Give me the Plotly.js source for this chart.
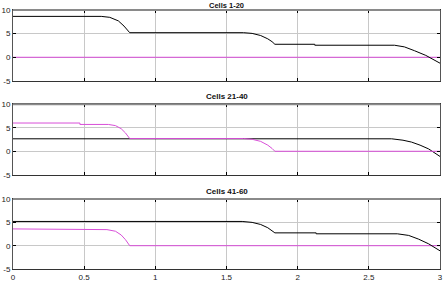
<!DOCTYPE html>
<html><head><meta charset="utf-8">
<script src="https://cdn.plot.ly/plotly-3.0.1.min.js"></script>
<style>body{margin:0;padding:0;background:#fff}</style>
</head><body><div id="chart" style="width:444px;height:289px"></div>
<script>
const titles = ["Cells 1-20", "Cells 21-40", "Cells 41-60"];
const xTicks = [0, 0.5, 1, 1.5, 2, 2.5, 3];
const yTicks = [-5, 0, 5, 10];

const p1BlackX = [0, 0.62, 0.68, 0.74, 0.78, 0.80, 0.82, 1.62, 1.68, 1.74, 1.79, 1.82, 1.84, 2.12, 2.12, 2.68, 2.75, 2.82, 2.9, 3.0];
const p1BlackY = [8.65, 8.65, 8.45, 7.7, 6.6, 5.9, 5.2, 5.2, 5.05, 4.6, 3.9, 3.3, 2.75, 2.75, 2.55, 2.55, 2.2, 1.4, 0.4, -1.25];
const p1MagX = [0, 3];
const p1MagY = [0, 0];

const p2BlackX = [0, 2.66, 2.74, 2.8, 2.86, 2.92, 3.0];
const p2BlackY = [2.65, 2.65, 2.35, 1.95, 1.3, 0.5, -1.1];
const p2MagX = [0, 0.47, 0.47, 0.67, 0.72, 0.76, 0.79, 0.81, 0.82, 1.62, 1.68, 1.74, 1.79, 1.82, 1.84, 3.0];
const p2MagY = [6.0, 6.0, 5.7, 5.7, 5.45, 4.8, 3.9, 3.2, 2.7, 2.7, 2.55, 2.1, 1.3, 0.6, 0, 0];

const p3BlackX = [0, 1.61, 1.68, 1.74, 1.79, 1.82, 1.84, 2.13, 2.13, 2.7, 2.78, 2.85, 2.92, 3.0];
const p3BlackY = [5.2, 5.2, 5.0, 4.55, 3.85, 3.3, 2.75, 2.75, 2.55, 2.55, 2.2, 1.4, 0.4, -1.1];
const p3MagX = [0, 0.47, 0.47, 0.66, 0.72, 0.76, 0.79, 0.81, 0.82, 3.0];
const p3MagY = [3.6, 3.6, 3.45, 3.45, 3.1, 2.3, 1.3, 0.5, 0, 0];

const BLACK = '#000000', MAG = '#d84fd8';
function tr(x, y, c, ax) {
  return {x: x, y: y, type: 'scatter', mode: 'lines', line: {color: c, width: 1},
    xaxis: 'x' + (ax === 1 ? '' : ax), yaxis: 'y' + (ax === 1 ? '' : ax), hoverinfo: 'none'};
}
const data = [
  tr(p1MagX, p1MagY, MAG, 1), tr(p1BlackX, p1BlackY, BLACK, 1),
  tr(p2BlackX, p2BlackY, BLACK, 2), tr(p2MagX, p2MagY, MAG, 2),
  tr(p3MagX, p3MagY, MAG, 3), tr(p3BlackX, p3BlackY, BLACK, 3)
];
const tickFont = {family: 'Liberation Sans, Arial, sans-serif', size: 8, color: '#222'};
function xa(showLabels, anchor) {
  return {range: [0, 3], tickvals: xTicks, ticktext: xTicks.map(String), showticklabels: showLabels,
    ticks: 'inside', ticklen: 3, tickcolor: '#000', showgrid: true, gridcolor: '#c8c8c8', gridwidth: 1,
    showline: true, linecolor: '#333', linewidth: 1, mirror: 'allticks', zeroline: false,
    tickfont: tickFont, anchor: anchor, domain: [0, 1]};
}
function ya(domain, anchor) {
  return {range: [-5, 10], tickvals: yTicks, ticktext: yTicks.map(String), ticks: 'inside', ticklen: 3,
    tickcolor: '#000', showgrid: true, gridcolor: '#c8c8c8', gridwidth: 1, showline: true,
    linecolor: '#555', linewidth: 1, mirror: 'allticks', zeroline: false, tickfont: tickFont,
    anchor: anchor, domain: domain};
}
const doms = [[0.7262, 1], [0.3637, 0.6363], [0, 0.27]];
const layout = {
  width: 444, height: 289, showlegend: false,
  margin: {l: 13, r: 4, t: 10, b: 20},
  paper_bgcolor: '#fff', plot_bgcolor: '#fff',
  xaxis: xa(false, 'y'), yaxis: ya(doms[0], 'x'),
  xaxis2: xa(false, 'y2'), yaxis2: ya(doms[1], 'x2'),
  xaxis3: xa(true, 'y3'), yaxis3: ya(doms[2], 'x3'),
  shapes: doms.map(d => ({type: 'line', xref: 'paper', yref: 'paper', x0: 0, x1: 1, y0: d[1], y1: d[1],
    line: {color: '#8a8a8a', width: 2}})),
  annotations: titles.map((t, i) => (i === 0 ? {
    text: '<b>' + t + '</b>', xref: 'paper', yref: 'paper', x: 0.5, y: 1 + 10 / 259,
    xanchor: 'center', yanchor: 'top', showarrow: false, borderpad: 0,
    font: {family: 'Liberation Sans, Arial, sans-serif', size: 7.5, color: '#111'}
  } : {
    text: '<b>' + t + '</b>', xref: 'paper', yref: 'paper', x: 0.5, y: doms[i][1],
    yshift: 1, xanchor: 'center', yanchor: 'bottom', showarrow: false,
    font: {family: 'Liberation Sans, Arial, sans-serif', size: 8, color: '#111'}
  }))
};
Plotly.newPlot('chart', data, layout, {staticPlot: true, displayModeBar: false});
</script></body></html>
